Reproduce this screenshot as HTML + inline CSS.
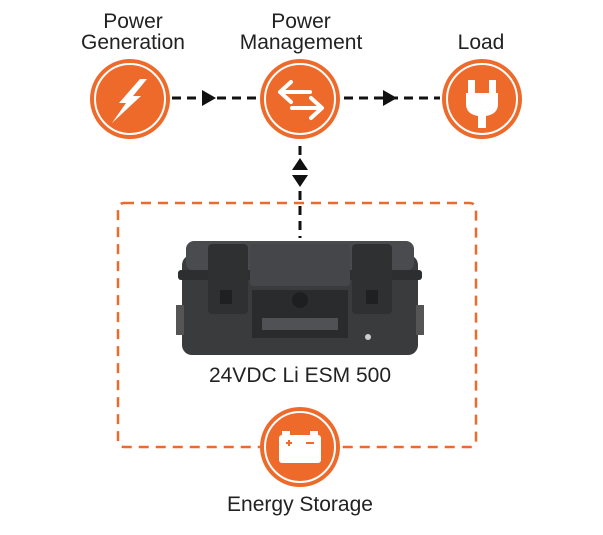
<!DOCTYPE html>
<html><head><style>
body{margin:0;background:#fff;width:603px;height:530px;overflow:hidden;font-family:"Liberation Sans",sans-serif;}
</style></head><body>
<svg width="603" height="530" viewBox="0 0 603 530" xmlns="http://www.w3.org/2000/svg">
<g font-family="Liberation Sans, sans-serif" font-size="21" fill="#222" text-anchor="middle">
<text x="133" y="28">Power</text><text x="133" y="49">Generation</text>
<text x="301" y="28">Power</text><text x="301" y="49">Management</text>
<text x="481" y="49">Load</text>
<text x="300" y="382">24VDC Li ESM 500</text>
<text x="300" y="511">Energy Storage</text>
</g>
<g stroke="#111" stroke-width="3" stroke-dasharray="9,6" fill="none">
<line x1="172" y1="98" x2="260" y2="98"/>
<line x1="344" y1="98" x2="440" y2="98"/>
<line x1="300" y1="146" x2="300" y2="238"/>
</g>
<g fill="#111">
<polygon points="202,90 202,106 216,98"/>
<polygon points="383,90 383,106 397,98"/>
<polygon points="292,170 308,170 300,158"/>
<polygon points="292,175 308,175 300,187"/>
</g>
<rect x="118" y="203" width="358" height="244" rx="6" fill="none" stroke="#EE6A2B" stroke-width="2.5" stroke-dasharray="10,7"/>
<g>
<circle cx="130" cy="99" r="40" fill="#EE6A2B"/><circle cx="130" cy="99" r="35" fill="none" stroke="#fff" stroke-width="2"/>
<circle cx="300" cy="99" r="40" fill="#EE6A2B"/><circle cx="300" cy="99" r="35" fill="none" stroke="#fff" stroke-width="2"/>
<circle cx="482" cy="99" r="40" fill="#EE6A2B"/><circle cx="482" cy="99" r="35" fill="none" stroke="#fff" stroke-width="2"/>
<circle cx="300" cy="447" r="40" fill="#EE6A2B"/><circle cx="300" cy="447" r="35" fill="none" stroke="#fff" stroke-width="2"/>
</g>
<polygon points="140,79 147,79 133,96 141,96 112,123 126,103 119,103" fill="#fff"/>
<g stroke="#fff" stroke-width="4" fill="none" stroke-linecap="round" stroke-linejoin="round">
<polyline points="291,82 280,92 291,102"/><line x1="281" y1="92" x2="310" y2="92"/>
<polyline points="311,98 322,108 311,118"/><line x1="292" y1="108" x2="321" y2="108"/>
</g>
<g fill="#fff">
<rect x="468" y="80" width="7" height="14"/><rect x="489" y="80" width="7" height="14"/>
<path d="M466 93 H498 V104 Q498 114 486 116 V128 H478 V116 Q466 114 466 104 Z"/>
</g>
<g fill="#fff">
<rect x="282" y="431" width="8" height="5"/><rect x="310" y="431" width="8" height="5"/>
<rect x="279" y="435" width="42" height="28" rx="3"/>
</g>
<g stroke="#EE6A2B" stroke-width="2"><line x1="286" y1="443" x2="292" y2="443"/><line x1="289" y1="440" x2="289" y2="446"/><line x1="306" y1="443" x2="314" y2="443"/></g>
<g>
<rect x="182" y="255" width="236" height="100" rx="10" fill="#3a3b3d"/>
<rect x="186" y="241" width="228" height="30" rx="8" fill="#4a4b4e"/>
<rect x="178" y="270" width="244" height="10" rx="3" fill="#2d2e30"/>
<rect x="250" y="244" width="100" height="42" rx="3" fill="#454649"/>
<rect x="208" y="244" width="40" height="70" rx="4" fill="#2f3032"/>
<rect x="352" y="244" width="40" height="70" rx="4" fill="#2f3032"/>
<rect x="220" y="290" width="12" height="14" fill="#1f2021"/>
<rect x="366" y="290" width="12" height="14" fill="#1f2021"/>
<path d="M252 290 H348 V338 H252 Z" fill="#2a2b2d"/>
<rect x="262" y="318" width="76" height="12" fill="#505155"/>
<circle cx="300" cy="300" r="8" fill="#1e1f20"/>
<circle cx="368" cy="337" r="3" fill="#ccc"/>
<rect x="176" y="305" width="8" height="30" fill="#555"/>
<rect x="416" y="305" width="8" height="30" fill="#555"/>
</g>
</svg>
</body></html>
